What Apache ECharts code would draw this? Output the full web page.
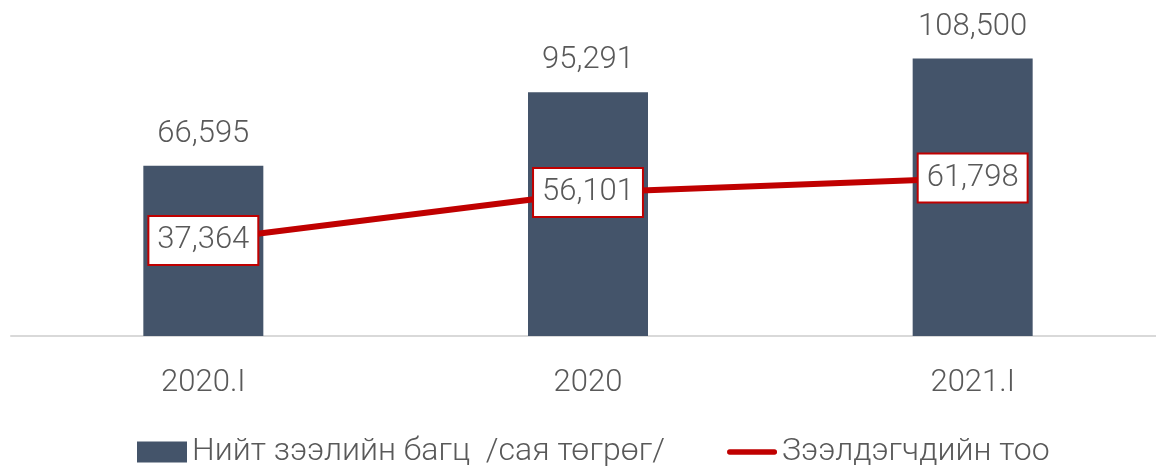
<!DOCTYPE html>
<html>
<head>
<meta charset="utf-8">
<script src="https://cdn.jsdelivr.net/npm/echarts@6/dist/echarts.min.js"></script>
<style>
  html, body { margin: 0; padding: 0; background: #fff; }
  #chart { width: 1156px; height: 466px; }
</style>
</head>
<body>
<div id="chart"></div>
<script>
var categories = ['2020.I', '2020', '2021.I'];
var loanTotal = [66595, 95291, 108500];
var borrowers = [37364, 56101, 61798];
var barName = 'Нийт зээлийн багц  /сая төгрөг/';
var lineName = 'Зээлдэгчдийн тоо';

var chart = echarts.init(document.getElementById('chart'));
var txt = '#595959';
var fmt = function (p) { return p.value.toLocaleString('en-US'); };

var option = {
    animation: false,
    textStyle: { fontFamily: 'Roboto', fontWeight: 300 },
    grid: { left: 11, width: 1154, top: 29, bottom: 130, outerBoundsMode: 'none' },
    legend: {
        left: 132,
        top: 431,
        itemGap: 62,
        itemWidth: 50,
        itemHeight: 21,
        textStyle: { fontSize: 32, color: txt, fontFamily: 'Roboto', fontWeight: 300 },
        data: [
            { name: barName, icon: 'rect' },
            { name: lineName, icon: 'path://M3,0 L53,0 A3,3 0 0 1 53,6 L3,6 A3,3 0 0 1 3,0 Z' }
        ]
    },
    xAxis: {
        type: 'category',
        data: categories,
        axisLine: { lineStyle: { color: '#d9d9d9', width: 2 } },
        axisTick: { show: false },
        axisLabel: { fontSize: 31, color: txt, margin: 32 }
    },
    yAxis: {
        type: 'value',
        min: 0,
        max: 120000,
        show: false,
        splitLine: { show: false }
    },
    series: [
        {
            name: barName,
            type: 'bar',
            data: loanTotal,
            barWidth: 120,
            itemStyle: { color: '#44546a' },
            label: {
                show: true,
                position: 'top',
                distance: 16,
                fontSize: 31,
                color: txt,
                formatter: fmt
            }
        },
        {
            name: lineName,
            type: 'line',
            data: borrowers,
            symbol: 'circle',
            symbolSize: 1,
            itemStyle: { color: '#c00000' },
            lineStyle: { color: '#c00000', width: 6 },
            label: {
                show: true,
                position: 'inside',
                fontSize: 31,
                color: txt,
                backgroundColor: '#fff',
                borderColor: '#c00000',
                borderWidth: 2,
                padding: [9, 8, 7, 8],
                formatter: fmt
            }
        }
    ]
};
chart.setOption(option);
</script>
</body>
</html>
